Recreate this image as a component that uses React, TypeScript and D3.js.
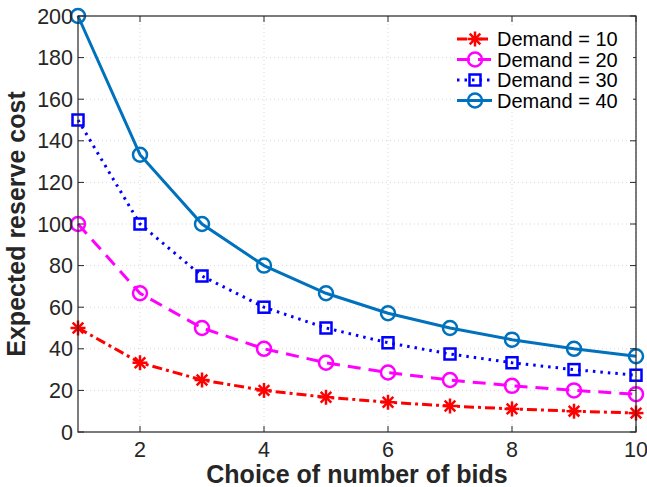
import React, { useEffect, useRef } from 'react';
import * as d3 from 'd3';

const bids = [1, 2, 3, 4, 5, 6, 7, 8, 9, 10];
const demand10 = [50, 33.3, 25, 20, 16.7, 14.3, 12.5, 11.1, 10, 9.1];
const demand20 = [100, 66.7, 50, 40, 33.3, 28.6, 25, 22.2, 20, 18.2];
const demand30 = [150, 100, 75, 60, 50, 42.9, 37.5, 33.3, 30, 27.3];
const demand40 = [200, 133.3, 100, 80, 66.7, 57.1, 50, 44.4, 40, 36.4];
const xTicks = [2, 4, 6, 8, 10];
const yTicks = [0, 20, 40, 60, 80, 100, 120, 140, 160, 180, 200];

const seriesList = [
  { label: 'Demand = 10', values: demand10, color: '#ff0000', dash: '10,4,3,4', marker: 'star' },
  { label: 'Demand = 20', values: demand20, color: '#ff00ff', dash: '13,8', marker: 'circle' },
  { label: 'Demand = 30', values: demand30, color: '#0000ff', dash: '2.5,5', marker: 'square' },
  { label: 'Demand = 40', values: demand40, color: '#0072bd', dash: null, marker: 'circle' },
];

const W = 647;
const H = 487;
const margin = { top: 16, right: 11, bottom: 55, left: 78 };
const textColor = '#262626';
const font = '"Liberation Sans", Arial, Helvetica, sans-serif';

function drawMarker(g: any, kind: string, x: number, y: number, color: string) {
  if (kind === 'circle') {
    g.append('circle').attr('cx', x).attr('cy', y).attr('r', 7)
      .attr('fill', 'none').attr('stroke', color).attr('stroke-width', 2.5);
  } else if (kind === 'square') {
    g.append('rect').attr('x', x - 5.5).attr('y', y - 5.5).attr('width', 11).attr('height', 11)
      .attr('fill', 'none').attr('stroke', color).attr('stroke-width', 2.5);
  } else {
    const r = 7.5;
    [0, 45, 90, 135].forEach(a => {
      const rad = (a * Math.PI) / 180;
      g.append('line')
        .attr('x1', x - r * Math.cos(rad)).attr('y1', y - r * Math.sin(rad))
        .attr('x2', x + r * Math.cos(rad)).attr('y2', y + r * Math.sin(rad))
        .attr('stroke', color).attr('stroke-width', 2.5);
    });
  }
}

export default function App() {
  const svgRef = useRef<SVGSVGElement>(null);

  useEffect(() => {
    document.body.style.margin = '0';
    if (!svgRef.current) return;
    const svg = d3.select(svgRef.current);
    svg.selectAll('*').remove();

    const width = W - margin.left - margin.right;
    const height = H - margin.top - margin.bottom;

    const x = d3.scaleLinear().domain([1, 10]).range([0, width]);
    const y = d3.scaleLinear().domain([0, 200]).range([height, 0]);

    svg.append('rect').attr('width', W).attr('height', H).attr('fill', '#fff');

    const g = svg.append('g').attr('transform', `translate(${margin.left},${margin.top})`);

    // grid
    xTicks.forEach(t => {
      g.append('line').attr('x1', x(t)).attr('x2', x(t)).attr('y1', 0).attr('y2', height)
        .attr('stroke', '#d9d9d9').attr('stroke-width', 1).attr('stroke-dasharray', '1,3');
    });
    yTicks.forEach(t => {
      g.append('line').attr('x1', 0).attr('x2', width).attr('y1', y(t)).attr('y2', y(t))
        .attr('stroke', '#d9d9d9').attr('stroke-width', 1).attr('stroke-dasharray', '1,3');
    });

    // series
    seriesList.forEach(s => {
      const line = d3.line<number>()
        .x((_, i) => x(bids[i]))
        .y(d => y(d));
      const path = g.append('path').datum(s.values)
        .attr('fill', 'none').attr('stroke', s.color).attr('stroke-width', 3)
        .attr('d', line);
      if (s.dash) path.attr('stroke-dasharray', s.dash);
      s.values.forEach((v, i) => drawMarker(g, s.marker, x(bids[i]), y(v), s.color));
    });

    // axes box
    const axisG = g.append('g');
    const tickLen = 6;
    xTicks.forEach(t => {
      axisG.append('line').attr('x1', x(t)).attr('x2', x(t)).attr('y1', height).attr('y2', height - tickLen)
        .attr('stroke', textColor);
      axisG.append('line').attr('x1', x(t)).attr('x2', x(t)).attr('y1', 0).attr('y2', tickLen)
        .attr('stroke', textColor);
      axisG.append('text').attr('x', x(t)).attr('y', height + 25)
        .attr('text-anchor', 'middle').attr('fill', textColor)
        .style('font-family', font).style('font-size', '21.5px').text(t);
    });
    yTicks.forEach(t => {
      axisG.append('line').attr('x1', 0).attr('x2', tickLen).attr('y1', y(t)).attr('y2', y(t))
        .attr('stroke', textColor);
      axisG.append('line').attr('x1', width).attr('x2', width - tickLen).attr('y1', y(t)).attr('y2', y(t))
        .attr('stroke', textColor);
      axisG.append('text').attr('x', -5).attr('y', y(t) + 7.5)
        .attr('text-anchor', 'end').attr('fill', textColor)
        .style('font-family', font).style('font-size', '21.5px').text(t);
    });
    axisG.append('rect').attr('x', 0).attr('y', 0).attr('width', width).attr('height', height)
      .attr('fill', 'none').attr('stroke', textColor).attr('stroke-width', 1.2);

    // axis labels
    svg.append('text').attr('x', margin.left + width / 2).attr('y', H - 4)
      .attr('text-anchor', 'middle').attr('fill', textColor)
      .style('font-family', font).style('font-size', '25px').style('font-weight', 'bold')
      .text('Choice of number of bids');
    svg.append('text')
      .attr('transform', `translate(25,${margin.top + height / 2}) rotate(-90)`)
      .attr('text-anchor', 'middle').attr('fill', textColor)
      .style('font-family', font).style('font-size', '25px').style('font-weight', 'bold')
      .text('Expected reserve cost');

    // legend
    const lg = svg.append('g').attr('transform', 'translate(455,28)');
    lg.append('rect').attr('x', 0).attr('y', 0).attr('width', 178).attr('height', 84).attr('fill', '#fff');
    seriesList.forEach((s, i) => {
      const cy = 11 + i * 20.5;
      const l = lg.append('line').attr('x1', 2).attr('x2', 37).attr('y1', cy).attr('y2', cy)
        .attr('stroke', s.color).attr('stroke-width', 3);
      if (s.dash) l.attr('stroke-dasharray', s.dash);
      drawMarker(lg, s.marker, 20, cy, s.color);
      lg.append('text').attr('x', 42).attr('y', cy + 7).attr('fill', '#000')
        .style('font-family', font).style('font-size', '20px').text(s.label);
    });
  }, []);

  return <svg ref={svgRef} width={W} height={H} style={{ display: 'block' }} />;
}
